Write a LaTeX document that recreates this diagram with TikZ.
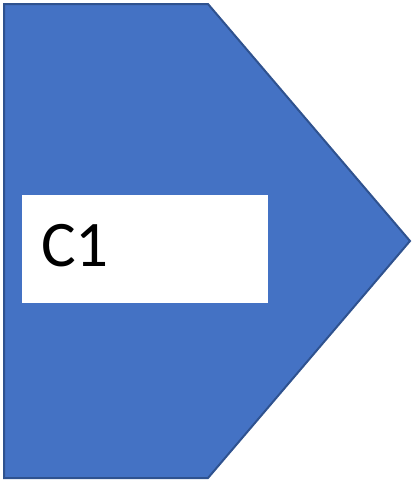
\documentclass[tikz,border=0pt]{standalone}
\usepackage{fontspec}
\setmainfont{Carlito}
\definecolor{shapefill}{HTML}{4472C4}
\definecolor{shapeline}{HTML}{2F528F}
\tikzset{
  arrowshape/.style={fill=shapefill, draw=shapeline, line width=2pt, line join=miter},
  labelbox/.style={fill=white, draw=none, inner sep=0pt, minimum width=246pt, minimum height=108pt},
  labeltext/.style={inner sep=0pt, font=\fontsize{65}{65}\selectfont}
}
\begin{document}
\begin{tikzpicture}[x=1pt,y=1pt]
\useasboundingbox (0,0) rectangle (413,-482);
\path[arrowshape] (4,-4) -- (208,-4) -- (410,-241) -- (208,-478) -- (4,-478) -- cycle;
\node[labelbox, anchor=north west] (c1) at (22,-195) {};
\node[labeltext, anchor=base west] (c1text) at (41,-266) {C1};
\end{tikzpicture}
\end{document}
